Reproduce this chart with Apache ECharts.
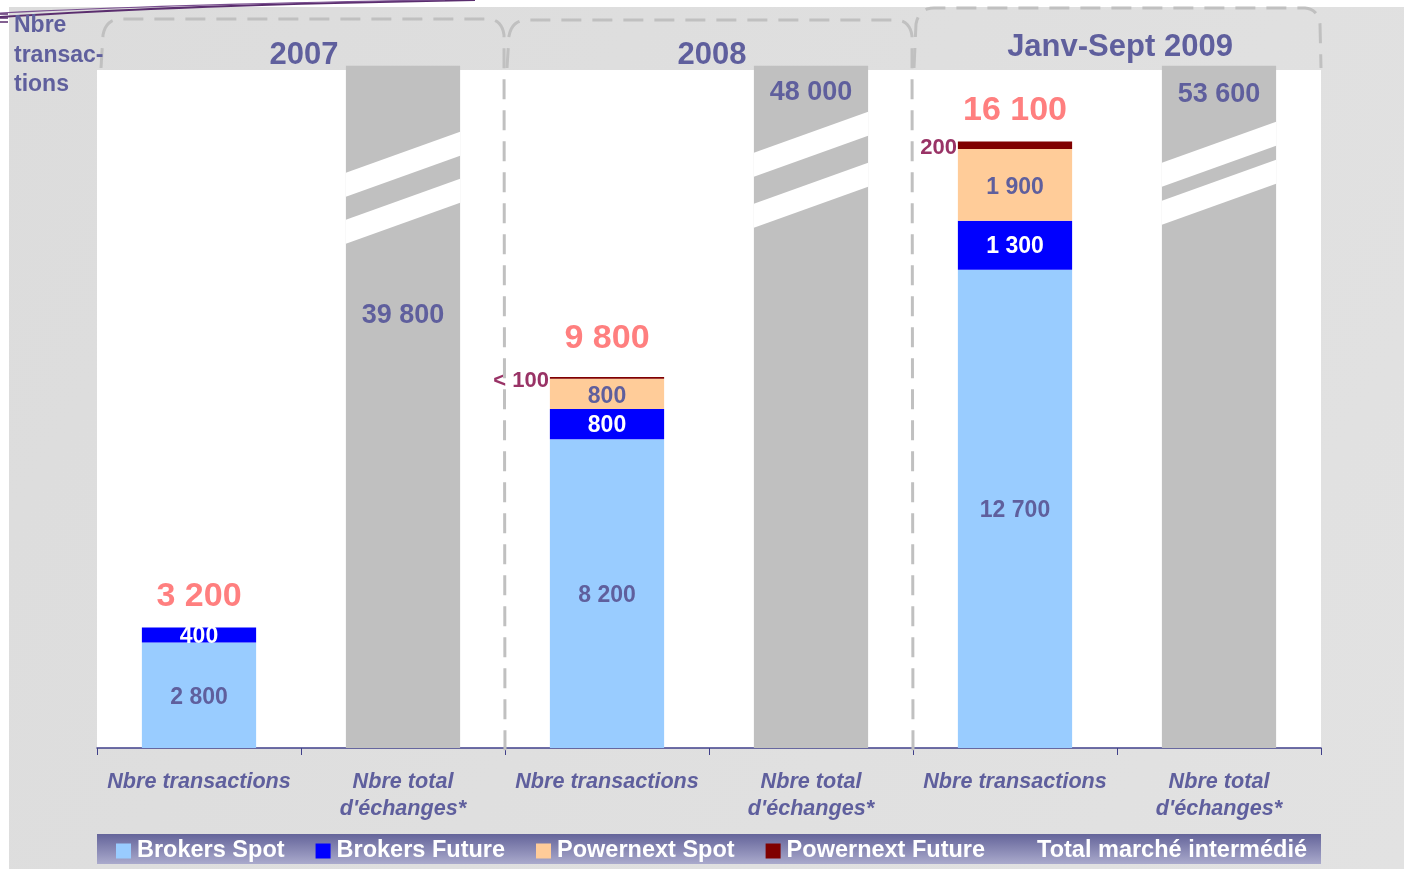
<!DOCTYPE html>
<html>
<head>
<meta charset="utf-8">
<title>Nbre transactions</title>
<script src="https://cdn.jsdelivr.net/npm/echarts@6/dist/echarts.min.js"></script>
<style>
html,body{margin:0;padding:0;background:#fff;}
#chart{width:1404px;height:869px;}
</style>
</head>
<body>
<div id="chart"></div>
<script>
// donnees
var categories = ['Nbre transactions', 'Nbre total\nd\'échanges*', 'Nbre transactions', 'Nbre total\nd\'échanges*', 'Nbre transactions', 'Nbre total\nd\'échanges*'];
var years = ['2007', '2008', 'Janv-Sept 2009'];
var brokersSpot = [2800, '-', 8200, '-', 12700, '-'];
var brokersFuture = [400, '-', 800, '-', 1300, '-'];
var powernextSpot = ['-', '-', 800, '-', 1900, '-'];
var powernextFuture = ['-', '-', 50, '-', 200, '-'];
var totalTransactions = [3200, '-', 9800, '-', 16100, '-'];
var totalMarket = ['-', 39800, '-', 48000, '-', 53600];

// barres grises coupees : hauteur dessinee (axe interrompu)
var BREAK_CAP = 18110;
var Y_MAX = 18000;

var slate = '#5f5f9d';
var font = '"Liberation Sans", Arial, sans-serif';

var gridLeft = 97, gridRight = 83, gridTop = 70, gridBottom = 121;
var W = 1404, H = 869;
var plotW = W - gridLeft - gridRight;
var band = plotW / categories.length;

function fmt(v) {
	return String(v).replace(/\B(?=(\d{3})+(?!\d))/g, ' ');
}

// position des hachures blanches sur les barres grises (px sous le haut de la barre)
var stripeStyle = [{first: 107, gap: 23}, {first: 87, gap: 27}, {first: 97, gap: 14}];
var marketLabelGap = [236, 13, 15];

var breakData = [];
var marketData = totalMarket.map(function (v, i) {
	if (v === '-') return '-';
	var k = breakData.length;
	breakData.push([i, BREAK_CAP]);
	return {value: BREAK_CAP, label: {distance: marketLabelGap[k]}};
});

var totalData = totalTransactions.map(function (v, i) {
	if (v === '-') return '-';
	return i == 2 ? {value: 0, label: {distance: 21}} : 0;
});

var segLabel = {show: true, position: 'inside', offset: [0, 2], fontSize: 23, fontWeight: 'bold', color: slate,
	formatter: function (p) { return fmt(p.value); }};

// decor : accolades pointillees au-dessus de chaque annee
function quad(p0, c, p1) {
	var pts = [];
	for (var t = 0; t <= 1.0001; t += 0.125) {
		var a = (1 - t) * (1 - t), b = 2 * (1 - t) * t, d = t * t;
		pts.push([a * p0[0] + b * c[0] + d * p1[0], a * p0[1] + b * c[1] + d * p1[1]]);
	}
	return pts;
}
function bracket(xl, xr, yTop, yl, yr) {
	var pts = [[xl, yl]];
	pts = pts.concat(quad([xl + 2, yTop + 16], [xl + 5, yTop], [xl + 20, yTop]));
	pts = pts.concat(quad([xr - 16, yTop], [xr - 3, yTop + 1], [xr - 1, yTop + 16]));
	pts.push([xr, yr]);
	return pts;
}
var sep1 = gridLeft + band * 2, sep2 = gridLeft + band * 4, rightEdge = W - gridRight;
var brackets = [
	bracket(gridLeft + 4, sep1, 19, 68, 756),
	bracket(sep1 + 2, sep2, 20, 68, 756),
	bracket(sep2 + 1, rightEdge, 8, 68, 68)
];
var yearY = [55, 55, 47];

var graphics = [
	{type: 'rect', z: -100, shape: {x: 9, y: 7, width: W - 9, height: H - 7},
		style: {fill: new echarts.graphic.LinearGradient(0, 0, 1, 1, [{offset: 0, color: '#dcdcdc'}, {offset: 1, color: '#e2e2e2'}])}},
	{type: 'rect', z: -90, shape: {x: gridLeft, y: gridTop, width: plotW, height: H - gridTop - gridBottom}, style: {fill: '#fff'}},
	{type: 'rect', z: -80, shape: {x: gridLeft, y: 834, width: plotW, height: 30},
		style: {fill: new echarts.graphic.LinearGradient(0, 0, 0, 1, [{offset: 0, color: '#64649a'}, {offset: 1, color: '#aaaacc'}])}},
	{type: 'bezierCurve', z: 5, shape: {x1: 0, y1: 17, cpx1: 120, cpy1: 9, cpx2: 300, cpy2: 3, x2: 475, y2: 0},
		style: {stroke: '#5a2d6e', lineWidth: 2, fill: null}},
	{type: 'bezierCurve', z: 5, shape: {x1: 0, y1: 13, cpx1: 140, cpy1: 6, cpx2: 310, cpy2: 2, x2: 445, y2: 0},
		style: {stroke: '#7a5090', lineWidth: 1.2, fill: null}},
	{type: 'line', z: 5, shape: {x1: 0, y1: 14, x2: 8, y2: 14}, style: {stroke: '#5a2d6e', lineWidth: 1.5}},
	{type: 'line', z: 5, shape: {x1: 0, y1: 18, x2: 8, y2: 18}, style: {stroke: '#5a2d6e', lineWidth: 1.5}},
	{type: 'line', z: 5, shape: {x1: 0, y1: 22, x2: 8, y2: 22}, style: {stroke: '#5a2d6e', lineWidth: 1.5}},
	{type: 'text', z: 20, left: 14, top: 11,
		style: {text: 'Nbre\ntransac-\ntions', fill: slate, font: 'bold 23px ' + font, lineHeight: 29.5}}
];
brackets.forEach(function (pts) {
	graphics.push({type: 'polyline', z: 10, shape: {points: pts},
		style: {stroke: '#c0c0c0', lineWidth: 3, lineDash: [20, 11], fill: null}});
});
years.forEach(function (y, i) {
	graphics.push({type: 'text', z: 20, x: gridLeft + band * (2 * i + 1) + 3, y: yearY[i],
		style: {text: y, fill: slate, font: 'bold 31px ' + font, textAlign: 'center', textVerticalAlign: 'middle'}});
});

var option = {
	animation: false,
	textStyle: {fontFamily: font},
	graphic: graphics,
	grid: {left: gridLeft, right: gridRight, top: gridTop, bottom: gridBottom, show: false},
	legend: {
		left: 116, top: 839, padding: 0, itemGap: 31, itemWidth: 15, itemHeight: 15, icon: 'rect',
		selectedMode: false,
		textStyle: {color: '#fff', fontSize: 23.5, fontWeight: 'bold', padding: [0, 0, 0, 1]},
		data: ['Brokers Spot', 'Brokers Future', 'Powernext Spot', 'Powernext Future',
			{name: 'Total marché intermédié', itemStyle: {opacity: 0}}]
	},
	xAxis: {
		type: 'category', data: categories,
		axisLine: {lineStyle: {color: '#40408a', width: 1.5}},
		axisTick: {show: true, alignWithLabel: false, interval: 0, length: 7, lineStyle: {color: '#40408a'}},
		axisLabel: {interval: 0, margin: 21, color: slate, fontSize: 21.6, fontWeight: 'bold', fontStyle: 'italic', lineHeight: 27}
	},
	yAxis: {type: 'value', min: 0, max: Y_MAX, show: false, splitLine: {show: false}},
	series: [
		{name: 'Brokers Spot', type: 'bar', stack: 's', barWidth: '56%', data: brokersSpot,
			itemStyle: {color: '#99ccff'}, label: segLabel},
		{name: 'Brokers Future', type: 'bar', stack: 's', barWidth: '56%', data: brokersFuture,
			itemStyle: {color: '#0000ff'}, label: echarts.util.extend(echarts.util.clone(segLabel), {color: '#fff'})},
		{name: 'Powernext Spot', type: 'bar', stack: 's', barWidth: '56%', data: powernextSpot,
			itemStyle: {color: '#ffcc99'}, label: echarts.util.extend(echarts.util.clone(segLabel), {offset: [0, 3]})},
		{name: 'Powernext Future', type: 'bar', stack: 's', barWidth: '56%', data: powernextFuture,
			itemStyle: {color: '#800000'},
			label: {show: true, position: 'left', distance: 1, offset: [0, 3], fontSize: 22, fontWeight: 'bold', color: '#993366',
				formatter: function (p) { return p.value < 100 ? '< 100' : fmt(p.value); }}},
		{name: 'Total', type: 'bar', stack: 's', barWidth: '56%', data: totalData,
			itemStyle: {color: 'transparent'},
			label: {show: true, position: 'top', distance: 14, fontSize: 34, fontWeight: 'bold', color: '#ff7f7f',
				formatter: function (p) { return fmt(totalTransactions[p.dataIndex]); }}},
		{name: 'Total marché intermédié', type: 'bar', stack: 's', barWidth: '56%', clip: false, data: marketData,
			itemStyle: {color: '#c0c0c0'},
			label: {show: true, position: 'insideTop', fontSize: 27, fontWeight: 'bold', color: slate,
				formatter: function (p) { return fmt(totalMarket[p.dataIndex]); }}},
		{name: 'coupure', type: 'custom', z: 3, silent: true, data: breakData,
			renderItem: function (params, api) {
				var top = api.coord([api.value(0), api.value(1)]);
				var w = api.size([1, 0])[0] * 0.56;
				var x0 = top[0] - w / 2, x1 = top[0] + w / 2;
				var s = stripeStyle[params.dataIndex];
				var children = [];
				[s.first, s.first + 24 + s.gap].forEach(function (off) {
					var yl = top[1] + off;
					children.push({type: 'polygon',
						shape: {points: [[x0, yl], [x1, yl - 41], [x1, yl - 41 + 24], [x0, yl + 24]]},
						style: {fill: '#fff'}});
				});
				return {type: 'group', children: children};
			}}
	]
};

var myChart = echarts.init(document.getElementById('chart'));
myChart.setOption(option);
</script>
</body>
</html>
